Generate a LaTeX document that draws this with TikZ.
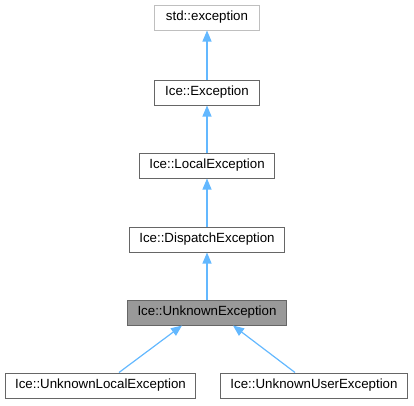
\documentclass[tikz,border=0pt]{standalone}
\usepackage{fontspec}
\setmainfont{Liberation Sans}
\usetikzlibrary{arrows.meta}
\definecolor{edgeblue}{HTML}{63B8FF}
\definecolor{boxgray}{HTML}{666666}
\definecolor{boxlight}{HTML}{BFBFBF}
\definecolor{boxfill}{HTML}{999999}
\begin{document}
\begin{tikzpicture}[x=1pt,y=-1pt,
	every node/.style={draw=boxgray,line width=1pt,rectangle,minimum height=25pt,inner xsep=10pt,inner ysep=0pt,
		font=\fontsize{13.3}{15}\selectfont},
	extern/.style={draw=boxlight},
	current/.style={fill=boxfill},
	inherit/.style={draw=edgeblue,line width=1.2pt,-{Triangle[width=9pt,length=11pt,fill=edgeblue]}}]
\useasboundingbox (0,0) rectangle (414,405);
\node[extern,minimum width=105pt] (stdexc) at (207,17.5) {std::exception};
\node[minimum width=105pt] (exc) at (207,92.5) {Ice::Exception};
\node (localexc) at (207,165.5) {Ice::LocalException};
\node (dispatchexc) at (207,239.5) {Ice::DispatchException};
\node[current] (unknownexc) at (207,312.5) {Ice::UnknownException};
\node (unknownlocal) at (100.5,385.5) {Ice::UnknownLocalException};
\node (unknownuser) at (314,385.5) {Ice::UnknownUserException};
\draw[inherit] (exc) -- (stdexc);
\draw[inherit] (localexc) -- (exc);
\draw[inherit] (dispatchexc) -- (localexc);
\draw[inherit] (unknownexc) -- (dispatchexc);
\draw[inherit] (unknownlocal.north -| 119,0) -- (unknownexc.south -| 182,0);
\draw[inherit] (unknownuser.north -| 295,0) -- (unknownexc.south -| 233,0);
\end{tikzpicture}
\end{document}
